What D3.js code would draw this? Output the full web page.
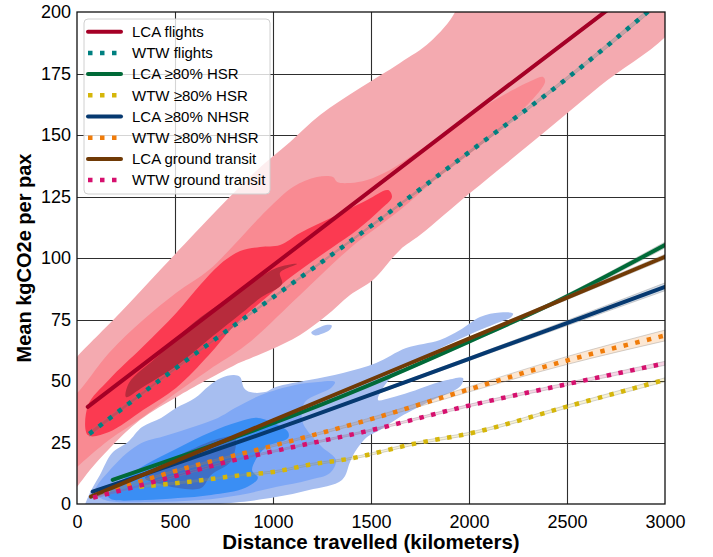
<!DOCTYPE html>
<html>
<head>
<meta charset="utf-8">
<script src="https://cdn.jsdelivr.net/npm/d3@7"></script>
<style>
  body { margin: 0; background: #fff; }
  svg { display: block; font-family: "Liberation Sans", Arial, sans-serif; }
</style>
</head>
<body>
<div id="chart"></div>
<script>
// axis ticks
var xTicks = [0, 500, 1000, 1500, 2000, 2500, 3000];
var yTicks = [0, 25, 50, 75, 100, 125, 150, 175, 200];

// fitted lines: distance (km) -> mean kgCO2e per pax, with half width of the band
var distLcaFlights = [55, 1000, 2000, 3000];
var co2LcaFlights = [39.5, 97, 158, 218.6];
var ciLcaFlights = [0.5, 0.4, 0.5, 0.8];

var distWtwFlights = [63, 500, 1000, 1500, 2000, 2500, 3000];
var co2WtwFlights = [28.5, 55, 84, 113, 143, 173, 206];
var ciWtwFlights = [1, 0.5, 0.4, 0.4, 0.5, 0.7, 1];

var distLcaHsr = [182, 600, 1138, 1600, 2000, 2413, 3000];
var co2LcaHsr = [9.8, 21.3, 37, 52, 66, 81, 105.3];
var ciLcaHsr = [0.6, 0.4, 0.4, 0.5, 0.6, 0.8, 1.2];

var distWtwHsr = [318, 600, 845, 1000, 1195, 1376, 1733, 2005, 2500, 3000];
var co2WtwHsr = [7, 9.3, 11.8, 13, 16.1, 18.2, 24.7, 28.7, 39.6, 50.5];
var ciWtwHsr = [0.5, 0.4, 0.4, 0.4, 0.4, 0.4, 0.5, 0.5, 0.6, 0.8];

var distLcaNhsr = [80, 1138, 2000, 2413, 3000];
var co2LcaNhsr = [5, 34, 59, 71, 88.3];
var ciLcaNhsr = [0.5, 0.4, 0.7, 1, 1.6];

var distWtwNhsr = [80, 505, 1015, 1500, 1971, 2498, 3000];
var co2WtwNhsr = [3, 13.5, 24, 34.5, 45.9, 58.3, 68.5];
var ciWtwNhsr = [0.5, 0.4, 0.4, 0.6, 1, 1.6, 2.2];

var distLcaGround = [71, 1000, 2000, 3000];
var co2LcaGround = [3, 34, 67.2, 100.5];
var ciLcaGround = [0.4, 0.4, 0.6, 1];

var distWtwGround = [82, 430, 770, 1111, 1468, 2000, 2498, 3000];
var co2WtwGround = [2.6, 9.8, 17.2, 23.3, 29.4, 40, 48.7, 57.2];
var ciWtwGround = [0.4, 0.4, 0.4, 0.4, 0.4, 0.5, 0.6, 0.8];

// density contours of the trips, [distance, kgCO2e] outlines
var flightsLevel1 = [[-40,56],[0,59.8],[219,77.6],[429,95.5],[714,119.5],[908,135],[1087,147.2],[1240,158.1],[1444,169.1],[1648,179.3],[1801,187.8],[1929,200],[1960,210],[3050,210],[3050,195],[2668,169.9],[2311,146.3],[2005,126.4],[1750,109.3],[1648,103.3],[1510,91.1],[1393,85],[1270,76.4],[1138,68.7],[985,62.6],[862,58.5],[806,56.5],[526,44.3],[321,34.1],[168,22.8],[66,13.8],[0,6.9],[-40,3]];
var flightsLevel2 = [[-40,43],[0,45.1],[163,61.4],[337,74.8],[505,85.8],[673,95.1],[796,104.9],[969,119.5],[1102,128.9],[1224,132.9],[1306,132.9],[1327,130.9],[1393,130.5],[1480,131.7],[1597,135.8],[1750,143.9],[1903,152],[2071,161.4],[2327,172.4],[2378,173.6],[2388,171.5],[2245,158],[1990,141.5],[1816,131],[1648,119.5],[1393,104],[1138,85],[862,64.6],[673,54.5],[505,45.1],[337,35.4],[163,26],[0,15],[-40,12]];
var flightsLevel3 = [[56,40],[163,50.5],[337,64],[505,77.5],[628,89],[730,97.5],[832,102.8],[934,104.5],[1036,105.3],[1138,110.2],[1306,116.7],[1480,123.6],[1587,127.6],[1607,124.8],[1546,119.5],[1429,111.4],[1306,104.5],[1189,98],[1071,91.1],[969,84.1],[796,72],[673,60.6],[505,47.2],[337,38.2],[163,29.3],[56,28]];
var flightsLevel4 = [[250,43.5],[265,49.2],[418,60.5],[592,73.5],[760,83],[883,89.5],[1020,96],[1122,97.6],[1036,94],[1046,89.4],[940,84],[862,79],[673,67],[505,56],[337,47.6]];

var railLevel1 = [[41,-2],[61,3.7],[117,11.8],[179,20.7],[260,25.2],[332,31.3],[429,35],[505,39],[602,43.1],[673,48],[735,51.2],[801,52.4],[832,51.6],[852,47.2],[883,45.5],[959,45.5],[1015,47.6],[1184,50.4],[1357,53.3],[1526,57.3],[1679,63.4],[1852,66.7],[1954,70.7],[2056,76],[2158,77.8],[2225,77.4],[2209,75.6],[2158,74],[2020,69.5],[1888,64.6],[1750,59.3],[1648,54.5],[1571,48.4],[1536,42.3],[1597,43.1],[1699,45.5],[1801,48.4],[1888,50.4],[1969,51.2],[1964,48.8],[1929,46.3],[1816,42.3],[1648,35.4],[1546,30.1],[1480,27.2],[1418,21.1],[1393,17.1],[1352,9.8],[1184,5.7],[1015,2.8],[832,0.8],[372,-2],[117,-2]];
var railIsland = [[1195,69.6],[1230,71.5],[1270,72.8],[1300,72.6],[1290,70.8],[1250,69.2],[1215,68.5]];
var railLevel2 = [[92,4.9],[168,13.8],[311,24],[464,28],[719,35],[806,39],[939,44.3],[1112,48.4],[1230,49.6],[1316,49.6],[1296,47.2],[1163,41.5],[1148,34.1],[1184,28.9],[1250,23.2],[1321,17.9],[1291,12.6],[1184,9.8],[1015,6.9],[832,3.7],[628,1.6],[372,0.8],[143,1.6]];
var railLevel3 = [[158,3.7],[245,10.6],[347,15.9],[515,22.8],[684,29.3],[821,33.3],[923,35],[1026,32.1],[1077,29.3],[1077,26.8],[959,22.8],[893,13.8],[923,10.6],[857,6.5],[684,3.7],[515,2.4],[347,1.6],[173,2]];
var railLevel4 = [[347,10.6],[429,15.9],[602,22.8],[735,26.8],[806,27.2],[786,17.5],[684,11.8],[633,6.5],[515,6.5],[423,8.1]];

var kdeLayers = [
  {pts: flightsLevel1, color: "#f4aab0"},
  {pts: flightsLevel2, color: "#f98a92"},
  {pts: flightsLevel3, color: "#fb3a51"},
  {pts: flightsLevel4, color: "#b72b3c"},
  {pts: railLevel1, color: "#a7bef0"},
  {pts: railIsland, color: "#a7bef0"},
  {pts: railLevel2, color: "#80a8f5"},
  {pts: railLevel3, color: "#3a8ef4"},
  {pts: railLevel4, color: "#3d6fc6"}
];

var series = [
  {name: "LCA flights", color: "#a50026", dotted: false, x: distLcaFlights, y: co2LcaFlights, ci: ciLcaFlights},
  {name: "WTW flights", color: "#008080", dotted: true, x: distWtwFlights, y: co2WtwFlights, ci: ciWtwFlights},
  {name: "LCA \u226580% HSR", color: "#006a38", dotted: false, x: distLcaHsr, y: co2LcaHsr, ci: ciLcaHsr},
  {name: "WTW \u226580% HSR", color: "#d5b60a", dotted: true, x: distWtwHsr, y: co2WtwHsr, ci: ciWtwHsr},
  {name: "LCA \u226580% NHSR", color: "#063970", dotted: false, x: distLcaNhsr, y: co2LcaNhsr, ci: ciLcaNhsr},
  {name: "WTW \u226580% NHSR", color: "#f07c0a", dotted: true, x: distWtwNhsr, y: co2WtwNhsr, ci: ciWtwNhsr},
  {name: "LCA ground transit", color: "#703a06", dotted: false, x: distLcaGround, y: co2LcaGround, ci: ciLcaGround},
  {name: "WTW ground transit", color: "#d6106e", dotted: true, x: distWtwGround, y: co2WtwGround, ci: ciWtwGround}
];

var width = 713, height = 557;
var margin = {top: 12, right: 48, bottom: 53, left: 77};
var innerWidth = width - margin.left - margin.right;
var innerHeight = height - margin.top - margin.bottom;

var svg = d3.select("#chart").append("svg")
  .attr("width", width)
  .attr("height", height);

var g = svg.append("g")
  .attr("transform", "translate(" + margin.left + "," + margin.top + ")");

var x = d3.scaleLinear().domain([0, 3000]).range([0, innerWidth]);
var y = d3.scaleLinear().domain([0, 200]).range([innerHeight, 0]);

svg.append("defs").append("clipPath").attr("id", "plotClip")
  .append("rect").attr("width", innerWidth).attr("height", innerHeight);

// grid
g.append("g").selectAll("line.vx")
  .data(xTicks.slice(1, -1)).enter().append("line")
  .attr("x1", function(d) { return Math.round(x(d)) + 0.5; })
  .attr("x2", function(d) { return Math.round(x(d)) + 0.5; })
  .attr("y1", 0).attr("y2", innerHeight)
  .attr("stroke", "#2e2e2e").attr("stroke-width", 1.1);
g.append("g").selectAll("line.hy")
  .data(yTicks.slice(1, -1)).enter().append("line")
  .attr("y1", function(d) { return Math.round(y(d)) + 0.5; })
  .attr("y2", function(d) { return Math.round(y(d)) + 0.5; })
  .attr("x1", 0).attr("x2", innerWidth)
  .attr("stroke", "#2e2e2e").attr("stroke-width", 1.1);

var plot = g.append("g").attr("clip-path", "url(#plotClip)");

// density fills
var kdeLine = d3.line()
  .x(function(d) { return x(d[0]); })
  .y(function(d) { return y(d[1]); })
  .curve(d3.curveCatmullRomClosed.alpha(0.5));

plot.selectAll("path.kde")
  .data(kdeLayers).enter().append("path")
  .attr("class", "kde")
  .attr("d", function(d) { return kdeLine(d.pts); })
  .attr("fill", function(d) { return d.color; });

// bands and lines
series.forEach(function(s) {
  var pts = s.x.map(function(v, i) { return {x: v, y: s.y[i], ci: s.ci[i]}; });
  var band = d3.area()
    .x(function(d) { return x(d.x); })
    .y0(function(d) { return y(d.y - d.ci); })
    .y1(function(d) { return y(d.y + d.ci); })
    .curve(d3.curveMonotoneX);
  plot.append("path")
    .attr("d", band(pts))
    .attr("fill", s.color).attr("fill-opacity", 0.18)
    .attr("stroke", "#888").attr("stroke-opacity", 0.35).attr("stroke-width", 1);

  var line = d3.line()
    .x(function(d) { return x(d.x); })
    .y(function(d) { return y(d.y); })
    .curve(d3.curveMonotoneX);
  plot.append("path")
    .attr("d", line(pts))
    .attr("fill", "none")
    .attr("stroke", s.color)
    .attr("stroke-width", s.dotted ? 4.5 : 4)
    .attr("stroke-dasharray", s.dotted ? "4.5,7.5" : null)
    .attr("stroke-linecap", s.dotted ? "butt" : "round");
});

// axes
var xAxis = g.append("g")
  .attr("transform", "translate(0," + innerHeight + ")")
  .call(d3.axisBottom(x).tickValues(xTicks).tickFormat(d3.format("d")).tickSize(0).tickPadding(11));
var yAxis = g.append("g")
  .call(d3.axisLeft(y).tickValues(yTicks).tickFormat(d3.format("d")).tickSize(0).tickPadding(6));
[xAxis, yAxis].forEach(function(a) {
  a.select(".domain").remove();
  a.selectAll("text")
    .attr("fill", "#000")
    .style("font-size", "18px")
    .style("font-family", "'Liberation Sans', Arial, sans-serif");
});

g.append("rect")
  .attr("width", innerWidth).attr("height", innerHeight)
  .attr("fill", "none").attr("stroke", "#111").attr("stroke-width", 1.3);

svg.append("text")
  .attr("x", margin.left + innerWidth / 2)
  .attr("y", 549)
  .attr("text-anchor", "middle")
  .style("font-size", "20.5px").style("font-weight", "bold")
  .text("Distance travelled (kilometers)");

svg.append("text")
  .attr("transform", "translate(31," + (margin.top + innerHeight / 2) + ") rotate(-90)")
  .attr("text-anchor", "middle")
  .style("font-size", "20px").style("font-weight", "bold")
  .text("Mean kgCO2e per pax");

// legend
var legend = svg.append("g").attr("transform", "translate(84,19)");
legend.append("rect")
  .attr("width", 186).attr("height", 175)
  .attr("rx", 4).attr("ry", 4)
  .attr("fill", "#fff").attr("fill-opacity", 0.8)
  .attr("stroke", "#d0d0d0").attr("stroke-width", 1);

var rows = legend.selectAll("g.row")
  .data(series).enter().append("g")
  .attr("class", "row")
  .attr("transform", function(d, i) { return "translate(0," + (12.7 + i * 21.2) + ")"; });

rows.append("line")
  .attr("x1", 4).attr("x2", 37)
  .attr("stroke", function(d) { return d.color; })
  .attr("stroke-width", function(d) { return d.dotted ? 4.5 : 4; })
  .attr("stroke-dasharray", function(d) { return d.dotted ? "4.5,7.5" : null; })
  .attr("stroke-linecap", function(d) { return d.dotted ? "butt" : "round"; });

rows.append("text")
  .attr("x", 48).attr("dy", "0.35em")
  .style("font-size", "15px")
  .text(function(d) { return d.name; });
</script>
</body>
</html>
